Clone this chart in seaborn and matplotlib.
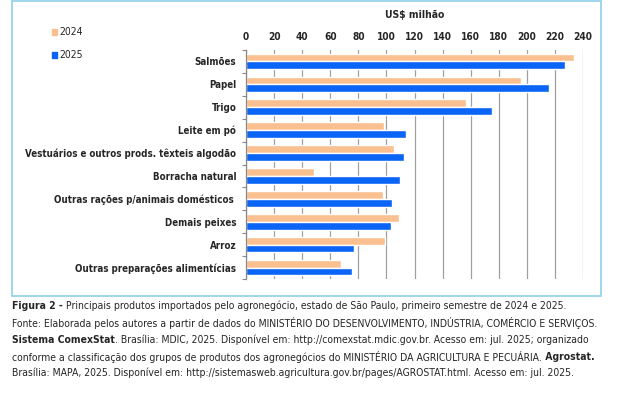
import matplotlib
matplotlib.use("Agg")
import matplotlib.pyplot as plt
from matplotlib.patches import Rectangle
import seaborn as sns
import pandas as pd

produtos = ["Salmões", "Papel", "Trigo", "Leite em pó",
            "Vestuários e outros prods. têxteis algodão", "Borracha natural",
            "Outras rações p/animais domésticos ", "Demais peixes", "Arroz",
            "Outras preparações alimentícias"]
v2024 = [233.7, 196.0, 156.6, 98.2, 105.1, 48.6, 97.5, 109.1, 98.7, 67.6]
v2025 = [227.0, 216.0, 174.9, 114.3, 112.7, 109.4, 103.9, 103.4, 77.1, 75.4]
anos = ["2024", "2025"]
xticks = list(range(0, 241, 20))

cores = {"2024": "#FAC090", "2025": "#0A64F5"}

sns.set_style("white")
plt.rcParams["font.family"] = ["DejaVu Sans"]
plt.rcParams["font.stretch"] = "condensed"

df = pd.DataFrame({"Produto": produtos * 2,
                   "Ano": ["2024"] * len(produtos) + ["2025"] * len(produtos),
                   "Valor": v2024 + v2025})

W, H = 622, 399
fig = plt.figure(figsize=(W / 100, H / 100), dpi=100)
r = fig.canvas.get_renderer()


def largura(s, bold, fs):
    if s == "":
        return 0
    t = fig.text(0, 0, s, fontsize=fs, fontweight="bold" if bold else "normal",
                 fontstretch="condensed")
    w = t.get_window_extent(r).width
    t.remove()
    return w


# moldura do grafico
fig.patches.append(Rectangle((12 / W, 1 - 296 / H), (601 - 12) / W, (296 - 1) / H,
                             transform=fig.transFigure, fill=False,
                             edgecolor="#8ECFEA", lw=1.2))

ax = fig.add_axes([246 / W, 1 - 279 / H, (583 - 246) / W, (279 - 50) / H])
sns.barplot(data=df, y="Produto", x="Valor", hue="Ano", hue_order=anos,
            palette=cores, orient="h", width=0.68, gap=0, ax=ax,
            legend=False, saturation=1)

fs_cat = 7 * 211 / largura(produtos[4], True, 7)

ax.set_xlim(0, 240)
ax.set_ylim(9.5, -0.5)
ax.xaxis.tick_top()
ax.set_xticks(xticks)
ax.set_xticklabels([str(t) for t in xticks], fontsize=7.3, fontweight="bold")
ax.tick_params(axis="x", length=0, pad=6)
ax.set_xlabel("")
ax.set_ylabel("")
ax.set_yticks(range(len(produtos)))
ax.set_yticklabels(produtos, fontsize=fs_cat, fontweight="bold")
ax.set_yticks([i - 0.5 for i in range(len(produtos) + 1)], minor=True)
ax.tick_params(axis="y", which="major", length=0, pad=7)
ax.tick_params(axis="y", which="minor", length=3, color="#888888", width=0.8, left=True)
ax.grid(axis="x", color="#A0A0A0", lw=0.9)
ax.set_axisbelow(True)
for s in ["top", "right", "bottom"]:
    ax.spines[s].set_visible(False)
ax.spines["left"].set_color("#888888")
ax.spines["left"].set_linewidth(0.9)

fig.text(415 / W, 1 - 15 / H, "US$ milhão", ha="center", va="center",
         fontsize=7.5, fontweight="bold")

# legenda
for i, ano in enumerate(anos):
    yy = 1 - (32 + 23 * i) / H
    fig.patches.append(Rectangle((52 / W, yy - 2.5 / H), 5 / W, 5 / H,
                                 transform=fig.transFigure, color=cores[ano]))
    fig.text(59 / W, yy, ano, ha="left", va="center", fontsize=7.5)

# texto da figura
legenda = [
    [("Figura 2 -", True), (" Principais produtos importados pelo agronegócio, estado de São Paulo, primeiro semestre de 2024 e 2025.", False)],
    [("Fonte: Elaborada pelos autores a partir de dados do MINISTÉRIO DO DESENVOLVIMENTO, INDÚSTRIA, COMÉRCIO E SERVIÇOS.", False)],
    [("Sistema ComexStat", True), (". Brasília: MDIC, 2025. Disponível em: http://comexstat.mdic.gov.br. Acesso em: jul. 2025; organizado", False)],
    [("conforme a classificação dos grupos de produtos dos agronegócios do MINISTÉRIO DA AGRICULTURA E PECUÁRIA.", False), (" Agrostat.", True)],
    [("Brasília: MAPA, 2025. Disponível em: http://sistemasweb.agricultura.gov.br/pages/AGROSTAT.html. Acesso em: jul. 2025.", False)],
]
linhas_y = [306, 323, 340, 357, 373]

wmax = max(sum(largura(t, b, 8) for t, b in lin) for lin in legenda)
fs_cap = 8 * 588 / wmax

for partes, ly in zip(legenda, linhas_y):
    x = 12
    for T, b in partes:
        t = fig.text(x / W, 1 - ly / H, T, ha="left", va="center",
                     fontsize=fs_cap, fontweight="bold" if b else "normal")
        x += t.get_window_extent(r).width

fig.savefig("out.png", dpi=100)
